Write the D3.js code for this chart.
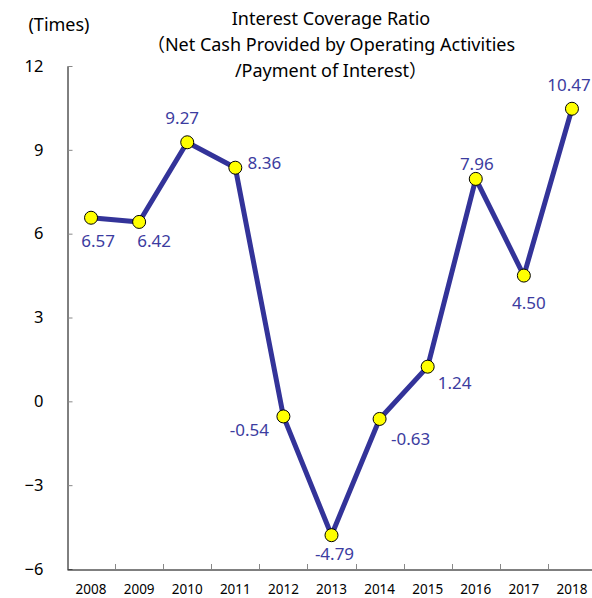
<!DOCTYPE html>
<html>
<head>
<meta charset="utf-8">
<script src="https://cdn.jsdelivr.net/npm/d3@7"></script>
<style>
  body { margin: 0; background: #fff; }
  svg { display: block; font-family: "Noto Sans", "Noto Sans CJK JP", sans-serif; }
</style>
</head>
<body>
<svg id="chart" width="592" height="598"></svg>
<script>
// chart data
let years = ["2008", "2009", "2010", "2011", "2012", "2013", "2014", "2015", "2016", "2017", "2018"];
let ratios = [6.57, 6.42, 9.27, 8.36, -0.54, -4.79, -0.63, 1.24, 7.96, 4.50, 10.47];
let yTicks = [-6, -3, 0, 3, 6, 9, 12];
let titleLines = ["Interest Coverage Ratio", "（Net Cash Provided by Operating Activities", "/Payment of Interest）"];
let unitLabel = "(Times)";

// where each value label sits relative to its point [dx, dy]
let labelOffsets = [[7, 23], [15, 19], [-5, -24], [29, -5], [-34, 14], [3, 19], [31, 20], [27, 16], [1, -15], [5, 27], [-3, -24]];

let lineColor = "#333399";
let labelColor = "#3c3ca0";

let svg = d3.select("#chart");

let xScale = d3.scaleBand()
    .domain(years)
    .range([67, 596]);

let yScale = d3.scaleLinear()
    .domain([-6, 12])
    .range([569, 66]);

// y axis, ticks point inward
let yAxis = svg.append("g")
    .attr("transform", "translate(67.5, 0)")
    .call(d3.axisLeft(yScale).tickValues(yTicks).tickSizeInner(-5).tickSizeOuter(0).tickPadding(24));
yAxis.select(".domain").attr("stroke", "#000");
yAxis.selectAll(".tick line").attr("stroke", "#888");
yAxis.selectAll("text")
    .style("font-size", "16.5px")
    .style("fill", "#000")
    .style("font-family", "Noto Sans");

// x axis, labels centred in bands
let xAxis = svg.append("g")
    .attr("transform", "translate(0, 569.5)")
    .call(d3.axisBottom(xScale).tickSize(0).tickPadding(14.5));
xAxis.select(".domain").attr("stroke", "#000");
xAxis.selectAll("text")
    .style("font-size", "13.5px")
    .style("fill", "#000")
    .style("font-family", "Noto Sans");

// tick marks between categories
svg.selectAll(".xTick")
    .data(years.slice(1))
    .enter()
    .append("line")
    .attr("x1", d => Math.round(xScale(d)) + 0.5)
    .attr("x2", d => Math.round(xScale(d)) + 0.5)
    .attr("y1", 569)
    .attr("y2", 564)
    .attr("stroke", "#888")
    .attr("stroke-width", 1);

let cx = (d, i) => xScale(years[i]) + xScale.bandwidth() / 2;
let cy = d => yScale(d);

// line
let line = d3.line()
    .x((d, i) => cx(d, i))
    .y(d => cy(d));

svg.append("path")
    .datum(ratios)
    .attr("d", line)
    .attr("fill", "none")
    .attr("stroke", lineColor)
    .attr("stroke-width", 5)
    .attr("stroke-linejoin", "round");

// markers
svg.selectAll(".dot")
    .data(ratios)
    .enter()
    .append("circle")
    .attr("cx", cx)
    .attr("cy", cy)
    .attr("r", 6.5)
    .attr("fill", "#ffff00")
    .attr("stroke", "#000")
    .attr("stroke-width", 1);

// value labels
svg.selectAll(".valueLabel")
    .data(ratios)
    .enter()
    .append("text")
    .attr("x", (d, i) => cx(d, i) + labelOffsets[i][0])
    .attr("y", (d, i) => cy(d) + labelOffsets[i][1])
    .attr("dy", "0.35em")
    .attr("text-anchor", "middle")
    .style("font-size", "17px")
    .style("fill", labelColor)
    .text(d => d.toFixed(2));

// title
svg.selectAll(".title")
    .data(titleLines)
    .enter()
    .append("text")
    .attr("x", 331)
    .attr("y", (d, i) => 25 + i * 26)
    .attr("text-anchor", "middle")
    .style("font-size", "18px")
    .style("fill", "#000")
    .text(d => d);

svg.append("text")
    .attr("x", 59)
    .attr("y", 31)
    .attr("text-anchor", "middle")
    .style("font-size", "18px")
    .style("fill", "#000")
    .text(unitLabel);
</script>
</body>
</html>
